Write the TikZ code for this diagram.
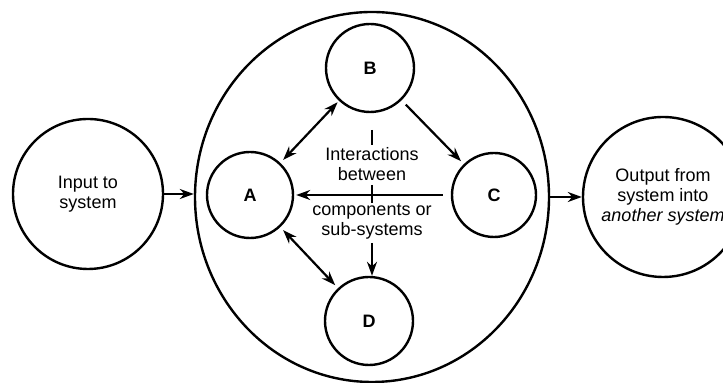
\documentclass[tikz,border=0pt]{standalone}
\usepackage{fontspec}
\setmainfont{Liberation Sans}
\usetikzlibrary{arrows.meta,shapes.geometric}
\begin{document}
\begin{tikzpicture}[x=0.5pt,y=-0.5pt,
 circ/.style={draw,circle,line width=1.2pt,inner sep=0pt,align=center,font=\fontsize{9}{10}\selectfont},
 comp/.style={circ,minimum size=44pt,font=\fontsize{9}{10}\selectfont\bfseries},
 arr/.style={-{Stealth[length=7pt,width=5pt]},line width=1.1pt},
 darr/.style={{Stealth[length=7pt,width=5pt]}-{Stealth[length=7pt,width=5pt]},line width=1.1pt},
 tick/.style={line width=1.1pt},
 txt/.style={align=center,font=\fontsize{9}{10}\selectfont,inner sep=0pt}]
\useasboundingbox (0,0) rectangle (723,383);
\clip (0,0) rectangle (723,383);
\fill[white] (0,0) rectangle (723,383);
% outer nodes
\node[circ,minimum size=75pt] (in) at (88,194) {Input to\\system};
\node[draw,ellipse,line width=1.2pt,minimum width=177pt,minimum height=185pt,inner sep=0pt] (sys) at (372,197) {};
\node[circ,minimum size=80pt] (out) at (663,197) {Output from\\system into\\\itshape another system};
% components
\node[comp,minimum size=43pt] (A) at (250,195) {A};
\node[comp] (B) at (370,68) {B};
\node[comp,minimum size=42pt] (C) at (494,195) {C};
\node[comp] (D) at (369,321) {D};
% texts
\node[txt] (t1) at (372,164) {Interactions\\between};
\node[txt] (t2) at (372,222) {components or\\sub-systems};
% ticks
\coordinate (k1) at (372,130);
\coordinate (k2) at (372,145);
\coordinate (k3) at (372,185);
\coordinate (k4) at (372,203);
\coordinate (k5) at (372,243);
\draw[tick] (k1) -- (k2);
\draw[tick] (k3) -- (k4);
% connectors
\draw[arr] (in.east) -- (sys.west |- in.east);
\draw[arr] (sys.east |- out.west) -- (out.west);
\draw[darr,shorten <=1pt,shorten >=2pt] (B) -- (A);
\draw[arr,shorten <=3pt,shorten >=2pt] (B) -- (C);
\draw[darr,shorten <=2pt,shorten >=2pt] (A) -- (D);
\draw[arr,shorten <=4pt,shorten >=1pt] (C) -- (A);
\draw[arr] (k5) -- (k5 |- D.north);
\end{tikzpicture}
\end{document}
